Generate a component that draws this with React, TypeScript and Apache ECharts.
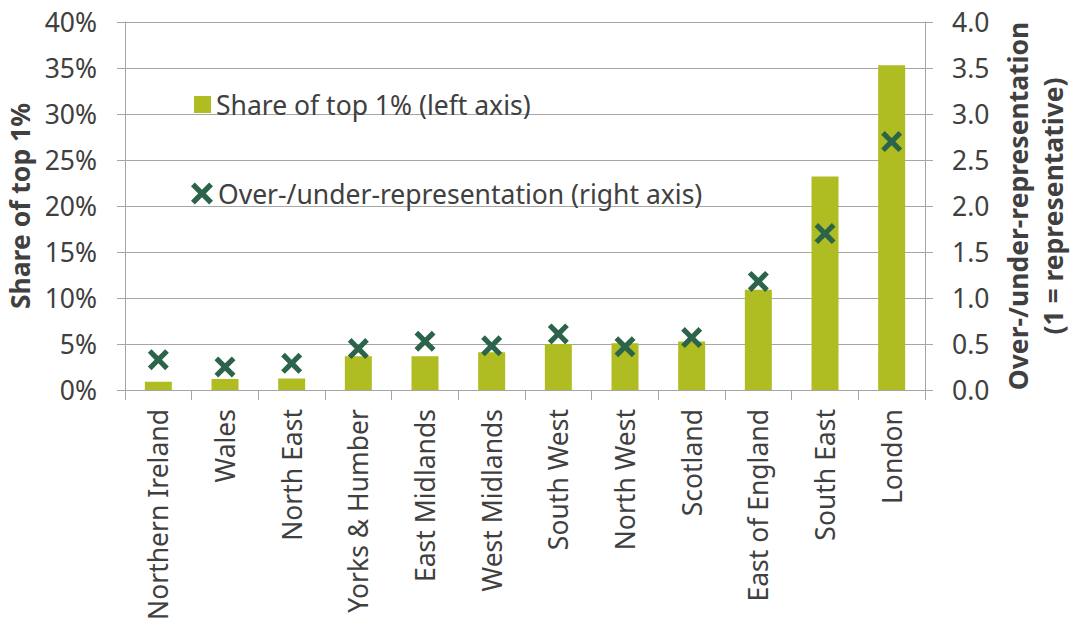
import React, { useEffect, useRef } from "react";
import * as echarts from "echarts";

const categories = [
  "Northern Ireland", "Wales", "North East", "Yorks & Humber", "East Midlands",
  "West Midlands", "South West", "North West", "Scotland", "East of England",
  "South East", "London",
];
const shareTop1 = [0.9, 1.2, 1.25, 3.67, 3.67, 4.1, 5.0, 5.08, 5.26, 10.9, 23.2, 35.3];
const overUnder = [0.33, 0.25, 0.29, 0.45, 0.53, 0.48, 0.61, 0.47, 0.57, 1.18, 1.70, 2.70];

const BAR_NAME = "Share of top 1% (left axis)";
const X_NAME = "Over-/under-representation (right axis)";
const BAR_COLOR = "#afbd22";
const X_COLOR = "#2b644a";
const TEXT = "#404040";
const GRID = "#a6a6a6";
const FONT = "Noto Sans";
const FS = 26.5;
const XSYM = "path://M0,3.5 L3.5,0 L10,6.5 L16.5,0 L20,3.5 L13.5,10 L20,16.5 L16.5,20 L10,13.5 L3.5,20 L0,16.5 L6.5,10 Z";

export default function App() {
  const ref = useRef<HTMLDivElement>(null);
  useEffect(() => {
    const chart = echarts.init(ref.current!, undefined, { renderer: "svg", width: 1071, height: 621 });
    chart.setOption({
      animation: false,
      textStyle: { fontFamily: FONT },
      grid: { left: 125, width: 800, top: 22, height: 368, containLabel: false, outerBoundsMode: "none" },
      legend: [
        {
          orient: "vertical",
          left: 189,
          top: 86,
          itemWidth: 17,
          itemHeight: 17,
          itemTextGap: 7,
          textStyle: { fontSize: FS, color: TEXT, fontFamily: FONT },
          data: [{ name: BAR_NAME, icon: "rect" }],
        },
        {
          orient: "vertical",
          left: 186,
          top: 175,
          itemWidth: 22,
          itemHeight: 22,
          itemTextGap: 5,
          textStyle: { fontSize: FS, color: TEXT, fontFamily: FONT },
          data: [{ name: X_NAME, icon: XSYM }],
        },
      ],
      xAxis: {
        type: "category",
        data: categories,
        axisLine: { lineStyle: { color: GRID, width: 1 } },
        axisTick: { show: true, length: 10, alignWithLabel: false, lineStyle: { color: GRID } },
        axisLabel: { rotate: 90, fontSize: FS, color: TEXT, margin: 19, fontFamily: FONT, interval: 0 },
      },
      yAxis: [
        {
          type: "value",
          min: 0,
          max: 40,
          interval: 5,
          name: "Share of top 1%",
          nameLocation: "middle",
          nameGap: 92,
          nameTextStyle: { fontSize: FS, fontWeight: "bold", color: TEXT, fontFamily: FONT },
          axisLine: { show: true, lineStyle: { color: GRID } },
          axisTick: { show: true, length: 8, lineStyle: { color: GRID } },
          axisLabel: { formatter: "{value}%", fontSize: FS, color: TEXT, margin: 28, fontFamily: FONT },
          splitLine: { show: true, lineStyle: { color: GRID, width: 1 } },
        },
        {
          type: "value",
          min: 0,
          max: 4,
          interval: 0.5,
          position: "right",
          name: "Over-/under-representation\n(1 = representative)",
          nameLocation: "middle",
          nameGap: 68,
          nameTextStyle: { fontSize: FS, fontWeight: "bold", color: TEXT, fontFamily: FONT, lineHeight: 35 },
          axisLine: { show: true, lineStyle: { color: GRID } },
          axisTick: { show: true, length: 8, lineStyle: { color: GRID } },
          axisLabel: { formatter: (v: number) => v.toFixed(1), fontSize: FS, color: TEXT, margin: 27, fontFamily: FONT },
          splitLine: { show: false },
        },
      ],
      series: [
        {
          name: BAR_NAME,
          type: "bar",
          yAxisIndex: 0,
          data: shareTop1,
          barWidth: 27,
          itemStyle: { color: BAR_COLOR },
        },
        {
          name: X_NAME,
          type: "scatter",
          yAxisIndex: 1,
          data: overUnder,
          symbol: XSYM,
          symbolSize: 21,
          itemStyle: { color: X_COLOR, opacity: 1 },
          z: 5,
        },
      ],
    });
    return () => chart.dispose();
  }, []);
  return (
    <div
      ref={ref}
      style={{ position: "fixed", left: 0, top: 0, width: 1071, height: 621, background: "#fff" }}
    />
  );
}
